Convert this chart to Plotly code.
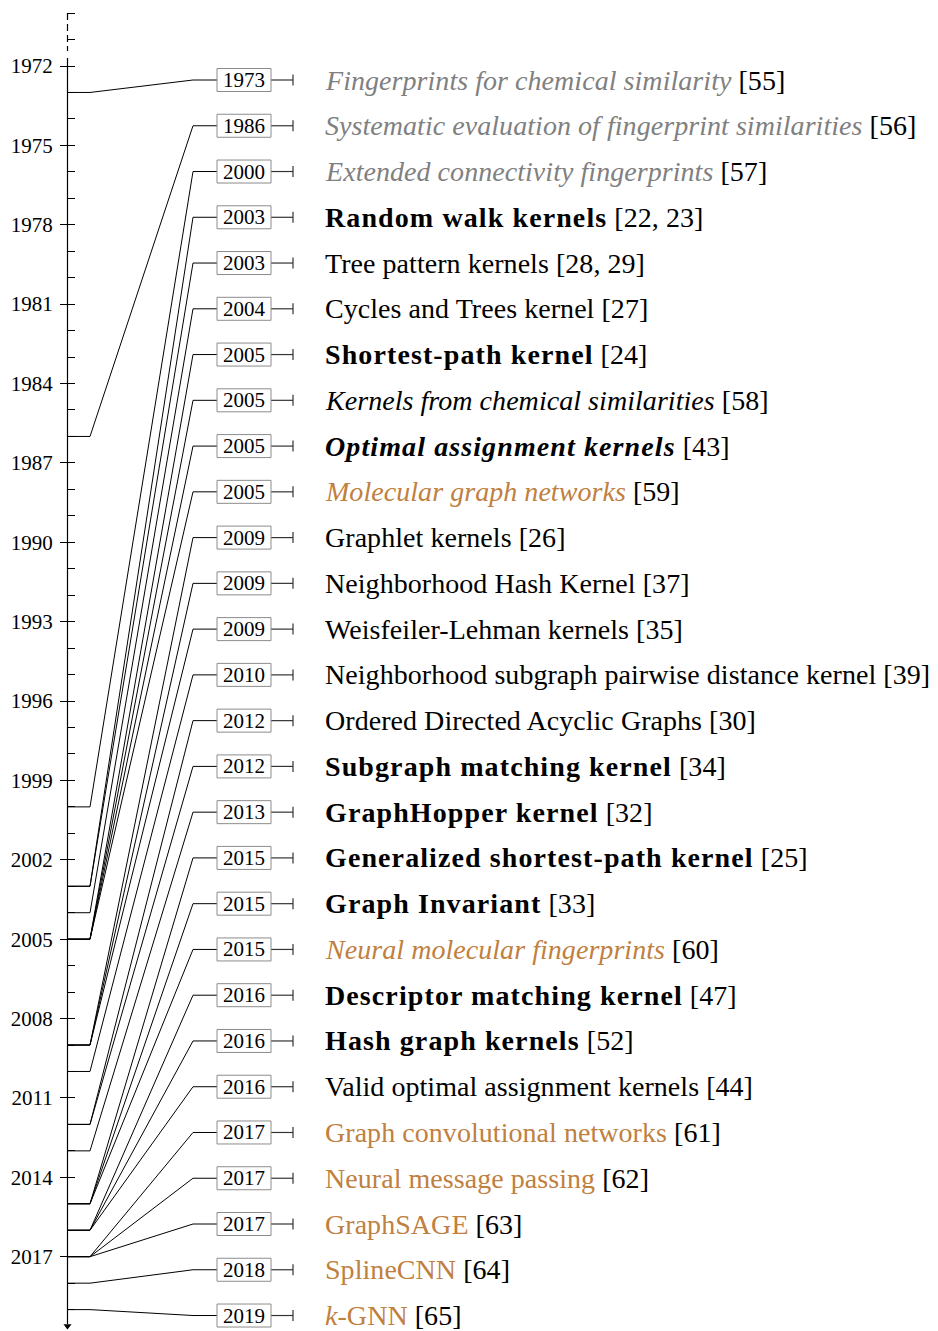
import plotly.graph_objects as go

# ---------------- data ----------------
years = [1973, 1986, 2000, 2003, 2003, 2004, 2005, 2005, 2005, 2005,
         2009, 2009, 2009, 2010, 2012, 2012, 2013, 2015, 2015, 2015,
         2016, 2016, 2016, 2017, 2017, 2017, 2018, 2019]
titles = ["Fingerprints for chemical similarity",
          "Systematic evaluation of fingerprint similarities",
          "Extended connectivity fingerprints",
          "Random walk kernels",
          "Tree pattern kernels",
          "Cycles and Trees kernel",
          "Shortest-path kernel",
          "Kernels from chemical similarities",
          "Optimal assignment kernels",
          "Molecular graph networks",
          "Graphlet kernels",
          "Neighborhood Hash Kernel",
          "Weisfeiler-Lehman kernels",
          "Neighborhood subgraph pairwise distance kernel",
          "Ordered Directed Acyclic Graphs",
          "Subgraph matching kernel",
          "GraphHopper kernel",
          "Generalized shortest-path kernel",
          "Graph Invariant",
          "Neural molecular fingerprints",
          "Descriptor matching kernel",
          "Hash graph kernels",
          "Valid optimal assignment kernels",
          "Graph convolutional networks",
          "Neural message passing",
          "GraphSAGE",
          "SplineCNN",
          "<i>k</i>-GNN"]
refs = ["55", "56", "57", "22, 23", "28, 29", "27", "24", "58", "43", "59",
        "26", "37", "35", "39", "30", "34", "32", "25", "33", "60",
        "47", "52", "44", "61", "62", "63", "64", "65"]
styles = ["grey_it", "grey_it", "grey_it", "bold", "plain", "plain", "bold", "it", "bold_it", "brown_it",
          "plain", "plain", "plain", "plain", "plain", "bold", "bold", "bold", "bold", "brown_it",
          "bold", "bold", "plain", "brown", "brown", "brown", "brown", "brown"]
axis_years = [1972, 1975, 1978, 1981, 1984, 1987, 1990, 1993, 1996, 1999,
              2002, 2005, 2008, 2011, 2014, 2017]

# ---------------- layout constants (page pixels) ----------------
PAGE_W, PAGE_H = 938, 1331
OFF = 8                      # default body margin of the page
W, H = PAGE_W - OFF, PAGE_H - OFF
PX_PER_YEAR = 26.46
Y_REF_PX = 66.0              # page pixel row of the first axis year
AXIS_X = 67.5
TICK_RIGHT_X = 75
ELBOW_X = 90
SLANT_END_X = 193
BOX_X0, BOX_X1 = 217, 271
BAR_X = 293
TEXT_X = 323
ROW0_PX, ROW_STEP = 80.0, 45.76
BOX_HALF = 11.5
BAR_HALF = 5.5

FONT = "Liberation Serif"
GREY = "#808080"
BROWN = "#bf8040"


def yr(px):
    return axis_years[0] + (px - Y_REF_PX) / PX_PER_YEAR


def styled(title, style):
    if style == "grey_it":
        return f'<span style="color:{GREY}"><i>{title}</i></span>'
    if style == "bold":
        return f'<b><span style="letter-spacing:1.1px">{title}</span></b>'
    if style == "bold_it":
        return f'<b><i><span style="letter-spacing:1.1px">{title}</span></i></b>'
    if style == "it":
        return f'<i>{title}</i>'
    if style == "brown_it":
        return f'<span style="color:{BROWN}"><i>{title}</i></span>'
    if style == "brown":
        return f'<span style="color:{BROWN}">{title}</span>'
    return title


fig = go.Figure()

# timeline axis: dashed head, solid body, arrow
fig.add_trace(go.Scatter(x=[AXIS_X, AXIS_X], y=[yr(13), yr(51)], mode="lines",
                         line=dict(color="black", width=1.2, dash="7px,4px"), hoverinfo="skip"))
fig.add_trace(go.Scatter(x=[AXIS_X, AXIS_X], y=[yr(58), yr(1324)], mode="lines",
                         line=dict(color="black", width=1.2), hoverinfo="skip"))
fig.add_trace(go.Scatter(x=[AXIS_X], y=[yr(1326)], mode="markers",
                         marker=dict(symbol="triangle-down", size=7, color="black"), hoverinfo="skip"))

cx, cy, bx, by = [], [], [], []
shapes, annotations = [], []
for i, (yv, t, r, s) in enumerate(zip(years, titles, refs, styles)):
    row_px = ROW0_PX + i * ROW_STEP
    row = yr(row_px)
    cx += [AXIS_X, ELBOW_X, SLANT_END_X, BOX_X0, None]
    cy += [yv, yv, row, row, None]
    bx += [BOX_X1, BAR_X, None, BAR_X, BAR_X, None]
    by += [row, row, None, yr(row_px - BAR_HALF), yr(row_px + BAR_HALF), None]
    shapes.append(dict(type="rect", xref="x", yref="y", x0=BOX_X0, x1=BOX_X1,
                       y0=yr(row_px - BOX_HALF), y1=yr(row_px + BOX_HALF),
                       line=dict(color="#8c8c8c", width=1), fillcolor="white", layer="above"))
    annotations.append(dict(x=(BOX_X0 + BOX_X1) / 2, y=row, xref="x", yref="y", text=str(yv),
                            showarrow=False, xanchor="center", yanchor="middle",
                            font=dict(family=FONT, size=21, color="black")))
    annotations.append(dict(x=TEXT_X, y=row, xref="x", yref="y",
                            text='<span style="letter-spacing:0.05px">' + styled(t, s) + f" [{r}]</span>",
                            showarrow=False, xanchor="left", yanchor="middle",
                            font=dict(family=FONT, size=28, color="black")))

fig.add_trace(go.Scatter(x=cx, y=cy, mode="lines", line=dict(color="black", width=1), hoverinfo="skip"))
fig.add_trace(go.Scatter(x=bx, y=by, mode="lines", line=dict(color="#333333", width=1.2), hoverinfo="skip"))

fig.update_layout(
    width=W, height=H, margin=dict(l=0, r=0, t=0, b=0),
    plot_bgcolor="white", paper_bgcolor="white", showlegend=False,
    shapes=shapes, annotations=annotations,
    xaxis=dict(range=[OFF, PAGE_W], visible=False, fixedrange=True),
    yaxis=dict(range=[yr(PAGE_H), yr(OFF)], anchor="free", position=(TICK_RIGHT_X - OFF) / W,
               showgrid=False, zeroline=False, showline=False,
               ticks="outside", ticklen=15, tickwidth=1, tickcolor="black",
               tickvals=axis_years, ticktext=[str(a) for a in axis_years],
               ticklabelstandoff=3,
               tickfont=dict(family=FONT, size=21, color="black"),
               minor=dict(ticks="outside", ticklen=8, tickwidth=1, tickcolor="black",
                          dtick=1, tick0=axis_years[0], showgrid=False)),
)

fig.write_html("out.html")
